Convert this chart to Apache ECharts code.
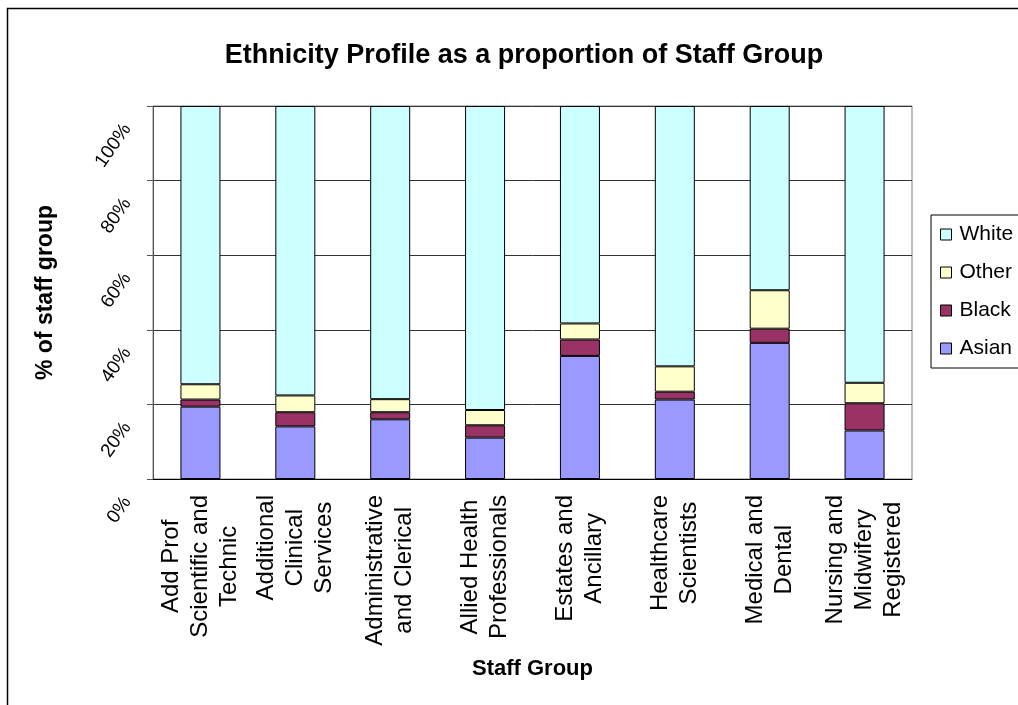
<!DOCTYPE html>
<html>
<head>
<meta charset="utf-8">
<title>Ethnicity Profile</title>
<script src="https://cdn.jsdelivr.net/npm/echarts@6/dist/echarts.min.js"></script>
<style>
  html, body { margin: 0; padding: 0; background: #fff; }
  #chart { width: 1018px; height: 705px; }
</style>
</head>
<body>
<div id="chart"></div>
<script>
// staff groups (line breaks as in the original labels)
const categories = [
  'Add Prof\nScientific and\nTechnic',
  'Additional\nClinical\nServices',
  'Administrative\nand Clerical',
  'Allied Health\nProfessionals',
  'Estates and\nAncillary',
  'Healthcare\nScientists',
  'Medical and\nDental',
  'Nursing and\nMidwifery\nRegistered'
]

// % of staff group
const asian = [19.4, 14.1, 16.0, 11.1, 33.0, 21.3, 36.5, 13.0]
const black = [1.9, 3.8, 1.9, 3.3, 4.4, 2.1, 3.8, 7.3]
const other = [4.1, 4.5, 3.5, 4.1, 4.3, 6.8, 10.3, 5.5]
const white = [74.6, 77.6, 78.6, 81.5, 58.3, 69.8, 49.4, 74.2]

const yTicks = [0, 20, 40, 60, 80, 100]

const FONT = '"Liberation Sans", Arial, sans-serif'

const chart = echarts.init(document.getElementById('chart'))

const barSeries = (name, data, color) => ({
  name,
  type: 'bar',
  stack: 'total',
  data,
  barWidth: 40,
  itemStyle: {
    color,
    borderColor: '#000',
    borderWidth: 1
  },
  emphasis: { disabled: true }
})

const option = {
  backgroundColor: '#fff',
  animation: false,
  textStyle: { fontFamily: FONT },
  title: {
    text: 'Ethnicity Profile as a proportion of Staff Group',
    left: 519,
    textAlign: 'center',
    top: 37,
    textStyle: {
      fontFamily: FONT,
      fontSize: 27,
      fontWeight: 'bold',
      color: '#000'
    }
  },
  legend: {
    orient: 'vertical',
    left: 931,
    top: 215,
    data: ['White', 'Other', 'Black', 'Asian'],
    icon: 'rect',
    itemWidth: 11,
    itemHeight: 11,
    itemGap: 17,
    padding: [9, 12, 9, 9],
    borderColor: '#000',
    borderWidth: 1,
    backgroundColor: '#fff',
    itemStyle: { borderColor: '#000', borderWidth: 1 },
    textStyle: {
      fontFamily: FONT,
      fontSize: 21,
      color: '#000',
      padding: [0, 0, 0, 3]
    }
  },
  grid: {
    left: 153,
    right: 106,
    top: 106,
    bottom: 226,
    show: true,
    borderColor: '#808080',
    borderWidth: 1
  },
  xAxis: {
    type: 'category',
    data: categories,
    name: 'Staff Group',
    nameLocation: 'middle',
    nameGap: 179,
    nameTextStyle: {
      fontFamily: FONT,
      fontSize: 22,
      fontWeight: 'bold',
      color: '#000'
    },
    axisLine: { lineStyle: { color: '#000', width: 1 } },
    axisTick: { length: 7, lineStyle: { color: '#000' } },
    axisLabel: {
      rotate: 90,
      interval: 0,
      margin: 16,
      color: '#000',
      fontFamily: FONT,
      fontSize: 24,
      lineHeight: 29,
      formatter: (value) => value.split('\n').map(l => `{c|${l}}`).join('\n'),
      rich: {
        c: {
          align: 'center',
          fontFamily: FONT,
          fontSize: 24,
          lineHeight: 29,
          color: '#000'
        }
      }
    }
  },
  yAxis: {
    type: 'value',
    min: yTicks[0],
    max: yTicks[yTicks.length - 1],
    interval: 20,
    name: '% of staff group',
    nameLocation: 'middle',
    nameGap: 96,
    nameTextStyle: {
      fontFamily: FONT,
      fontSize: 23,
      fontWeight: 'bold',
      color: '#000'
    },
    axisLine: { show: true, lineStyle: { color: '#555', width: 1 } },
    axisTick: { show: true, length: 6, lineStyle: { color: '#555' } },
    axisLabel: {
      rotate: 55,
      margin: 12,
      padding: [0, 24, 0, 0],
      color: '#000',
      fontFamily: FONT,
      fontSize: 19,
      formatter: '{value}%'
    },
    splitLine: { lineStyle: { color: '#333', width: 1 } }
  },
  graphic: [
    {
      type: 'rect',
      shape: { x: 7.5, y: 8.5, width: 1100, height: 800 },
      style: { fill: 'none', stroke: '#000', lineWidth: 1.5 },
      silent: true
    }
  ],
  series: [
    barSeries('Asian', asian, '#9999FF'),
    barSeries('Black', black, '#993366'),
    barSeries('Other', other, '#FFFFCC'),
    barSeries('White', white, '#CCFFFF')
  ]
}

chart.setOption(option)
</script>
</body>
</html>
